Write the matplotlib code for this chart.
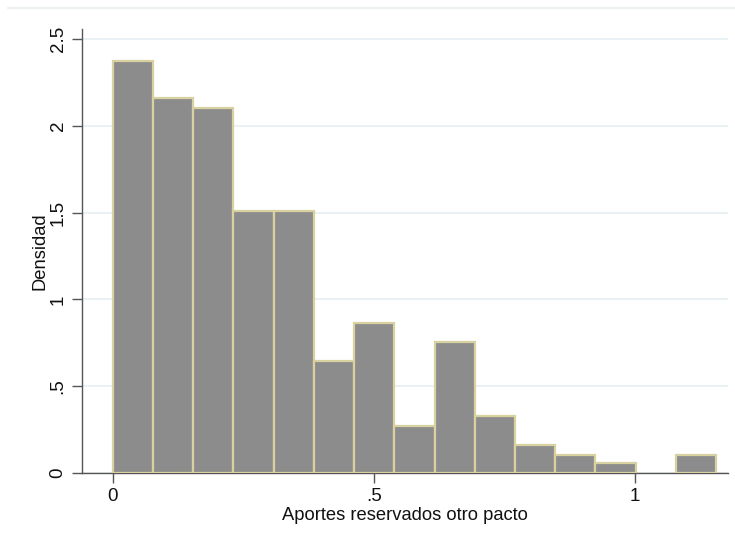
import matplotlib
matplotlib.use("Agg")
import matplotlib.pyplot as plt
from matplotlib.lines import Line2D

plt.rcParams['font.family'] = ['Liberation Sans', 'DejaVu Sans']

# Histogram: bin width and densities per bin
bin_start = 0.0
bin_width = 0.077
densities = [2.375, 2.158, 2.103, 1.511, 1.511, 0.647, 0.862, 0.271,
             0.756, 0.328, 0.161, 0.105, 0.056, 0.0, 0.105]

x_ticks = [0, 0.5, 1]
x_tick_labels = ["0", ".5", "1"]
y_ticks = [0, 0.5, 1, 1.5, 2, 2.5]
y_tick_labels = ["0", ".5", "1", "1.5", "2", "2.5"]

x_label = "Aportes reservados otro pacto"
y_label = "Densidad"

fig = plt.figure(figsize=(7.35, 5.4), dpi=100)
ax = fig.add_axes([0.1116, 0.1241, 0.8789, 0.8222])

# empty bins are left undrawn
lefts = [bin_start + i * bin_width for i, d in enumerate(densities) if d > 0]
heights = [d for d in densities if d > 0]
ax.bar(lefts, heights, width=bin_width, align='edge',
       color='#8c8c8c', edgecolor='#d9d2a0', linewidth=1.6, zorder=3)

ax.set_xlim(-0.059, 1.178)
ax.set_ylim(0, 2.558)

ax.set_xticks(x_ticks)
ax.set_xticklabels(x_tick_labels)
ax.set_yticks(y_ticks)
ax.set_yticklabels(y_tick_labels, rotation=90, va='center')

ax.grid(axis='y', color='#e6eff2', linewidth=1.2, zorder=0)
ax.set_axisbelow(True)

for side in ('top', 'right'):
    ax.spines[side].set_visible(False)
for side in ('left', 'bottom'):
    ax.spines[side].set_color('#555555')
    ax.spines[side].set_linewidth(1.0)

ax.tick_params(axis='both', direction='out', length=7, width=1.0,
               color='#555555', labelsize=13.5, labelcolor='#111111')
ax.tick_params(axis='y', pad=4)
ax.tick_params(axis='x', pad=4)

ax.set_xlabel(x_label, fontsize=13.2, labelpad=1, color='#111111')
ax.set_ylabel(y_label, fontsize=13.2, labelpad=1, color='#111111')

# faint frame line along the top of the graph region
fig.add_artist(Line2D([0.011, 1.0], [0.985, 0.985], transform=fig.transFigure,
                      color='#e6eef0', linewidth=1.2))

fig.savefig("out.png", dpi=100)
